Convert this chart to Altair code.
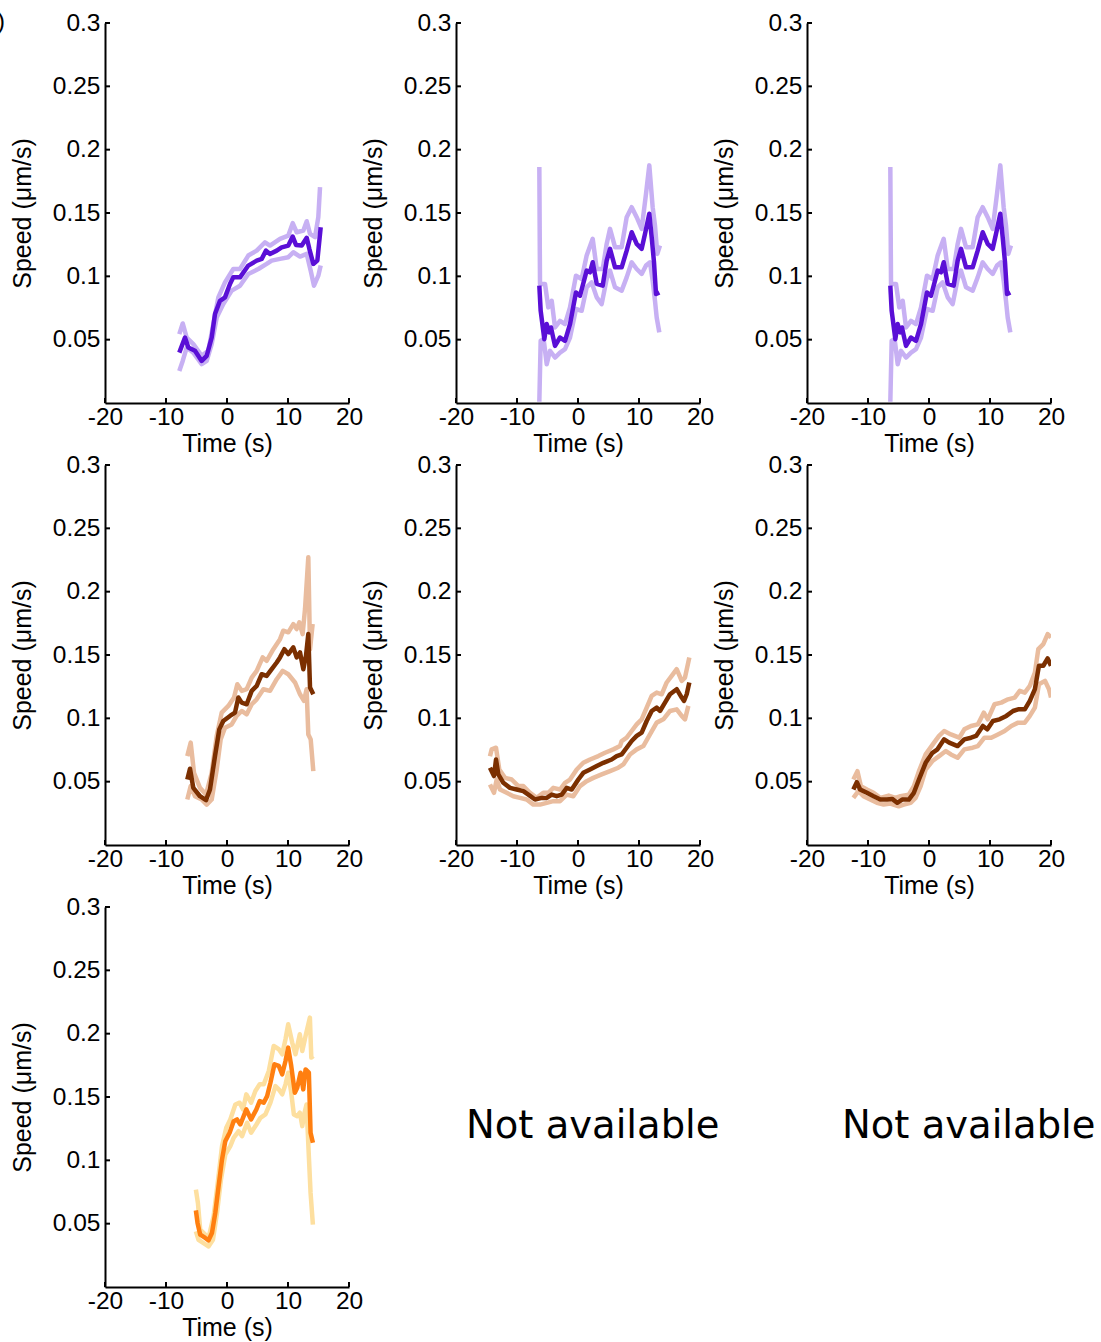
import altair as alt
import pandas as pd

# ---------------- data ----------------
X_TICKS = [-20, -10, 0, 10, 20]
Y_TICKS = [0.05, 0.1, 0.15, 0.2, 0.25, 0.3]
X_TITLE = "Time (s)"
Y_TITLE = "Speed (μm/s)"
NA_TEXT = "Not available"
PANEL_LABEL = "b)"

# panel 1 (purple)
P1_MEAN_T = [-7.82, -6.89, -6.34, -5.25, -4.15, -3.33, -2.51, -1.97, -1.15, -0.33, 0.49, 1.03, 2.13, 3.49, 4.87, 5.69, 6.39, 7.05, 8.15, 8.96, 10.05, 10.77, 11.31, 12.25, 13.07, 13.5, 14.15, 14.81, 15.36]
P1_MEAN_V = [0.0398, 0.0517, 0.0438, 0.0412, 0.0332, 0.0372, 0.0517, 0.0702, 0.0807, 0.0834, 0.0940, 0.0992, 0.0992, 0.1085, 0.1124, 0.1138, 0.1203, 0.1177, 0.1203, 0.1229, 0.1243, 0.1314, 0.1248, 0.1243, 0.1304, 0.1217, 0.1098, 0.1124, 0.1388]
P1_UP_T = [-7.82, -7.26, -6.61, -5.52, -4.15, -3.06, -2.25, -1.42, -0.33, 1.03, 2.13, 3.49, 4.87, 6.23, 7.05, 8.69, 10.05, 10.77, 11.42, 12.52, 13.07, 13.61, 14.43, 14.97, 15.25]
P1_UP_V = [0.0544, 0.0628, 0.0517, 0.0465, 0.0372, 0.0412, 0.0623, 0.0834, 0.0952, 0.1058, 0.1058, 0.1164, 0.1203, 0.1269, 0.1243, 0.1296, 0.1322, 0.1420, 0.1348, 0.1362, 0.1435, 0.1335, 0.1309, 0.1467, 0.1704]
P1_LO_T = [-7.82, -7.26, -6.61, -5.52, -4.15, -3.33, -2.51, -1.69, -0.61, 0.77, 2.13, 3.49, 5.14, 6.5, 7.32, 8.69, 10.05, 10.87, 11.97, 13.07, 13.72, 14.26, 14.97, 15.36]
P1_LO_V = [0.0253, 0.0332, 0.0438, 0.0398, 0.0306, 0.0332, 0.0465, 0.0675, 0.0781, 0.0887, 0.0926, 0.1019, 0.1058, 0.1098, 0.1124, 0.1138, 0.1151, 0.1190, 0.1156, 0.1177, 0.1045, 0.0926, 0.1005, 0.1085]

# panels 2 and 3 (purple, identical curves)
P2_MEAN_T = [-6.34, -6.12, -5.52, -5.13, -4.70, -4.43, -3.77, -2.95, -2.13, -1.31, -0.33, 0.33, 1.42, 1.97, 2.41, 3.07, 4.05, 4.70, 5.25, 6.07, 7.16, 7.98, 8.80, 9.62, 10.44, 10.98, 11.69, 12.08, 12.46, 12.79, 13.33]
P2_MEAN_V = [0.0926, 0.0728, 0.0504, 0.0623, 0.0557, 0.0596, 0.0451, 0.0517, 0.0491, 0.0623, 0.0873, 0.0847, 0.1045, 0.1032, 0.1111, 0.0940, 0.0926, 0.1124, 0.1217, 0.1071, 0.1071, 0.1203, 0.1348, 0.1256, 0.1217, 0.1335, 0.1494, 0.1309, 0.1111, 0.0860, 0.0873]
P2_UP_T = [-6.34, -6.23, -5.41, -4.87, -4.31, -3.77, -2.95, -2.13, -1.31, -0.33, 0.60, 1.42, 2.41, 3.07, 4.05, 4.70, 5.25, 6.07, 7.16, 7.98, 8.80, 9.62, 10.44, 11.15, 11.69, 12.24, 12.62, 13.00, 13.44]
P2_UP_V = [0.1863, 0.0940, 0.0940, 0.0755, 0.0807, 0.0596, 0.0649, 0.0623, 0.0755, 0.1005, 0.0979, 0.1164, 0.1296, 0.1058, 0.1058, 0.1256, 0.1375, 0.1230, 0.1230, 0.1467, 0.1546, 0.1467, 0.1375, 0.1652, 0.1876, 0.1546, 0.1401, 0.1177, 0.1243]
P2_LO_T = [-6.34, -6.12, -5.63, -5.13, -4.59, -3.77, -2.95, -2.13, -1.31, -0.33, 0.60, 1.42, 2.24, 3.07, 3.88, 4.70, 5.25, 6.07, 7.16, 7.98, 8.80, 9.62, 10.44, 11.15, 11.80, 12.24, 12.62, 12.90, 13.33]
P2_LO_V = [0.0010, 0.0491, 0.0504, 0.0306, 0.0412, 0.0359, 0.0398, 0.0425, 0.0517, 0.0742, 0.0728, 0.0913, 0.0952, 0.0834, 0.0781, 0.0979, 0.1045, 0.0913, 0.0887, 0.0992, 0.1111, 0.1058, 0.1019, 0.1085, 0.1111, 0.0966, 0.0807, 0.0675, 0.0557]

# panel 4 (brown)
P4_MEAN_T = [-6.51, -6.07, -5.52, -4.43, -3.44, -2.79, -1.97, -1.26, -0.61, 0.49, 1.31, 1.86, 2.41, 3.23, 4.05, 4.87, 5.69, 6.50, 7.33, 8.15, 8.69, 9.40, 10.05, 10.87, 11.42, 11.97, 12.51, 12.95, 13.33, 13.61, 14.15]
P4_MEAN_V = [0.0517, 0.0602, 0.0451, 0.0385, 0.0354, 0.0438, 0.0702, 0.0913, 0.0979, 0.1019, 0.1045, 0.1164, 0.1124, 0.1111, 0.1217, 0.1256, 0.1348, 0.1335, 0.1388, 0.1441, 0.1481, 0.1546, 0.1507, 0.1560, 0.1481, 0.1520, 0.1388, 0.1494, 0.1665, 0.1243, 0.1190]
P4_UP_T = [-6.51, -5.95, -5.41, -4.43, -3.44, -2.51, -1.69, -0.87, 0.22, 1.15, 1.69, 2.41, 3.23, 4.05, 4.87, 5.85, 6.50, 7.60, 8.69, 9.23, 10.05, 10.87, 11.42, 11.86, 12.40, 12.79, 13.33, 13.61, 14.04]
P4_UP_V = [0.0702, 0.0808, 0.0570, 0.0451, 0.0398, 0.0570, 0.0861, 0.1045, 0.1098, 0.1164, 0.1269, 0.1217, 0.1230, 0.1322, 0.1375, 0.1481, 0.1454, 0.1546, 0.1625, 0.1692, 0.1679, 0.1744, 0.1705, 0.1758, 0.1665, 0.1863, 0.2272, 0.1546, 0.1744]
P4_LO_T = [-6.51, -5.95, -5.25, -4.15, -3.33, -2.51, -1.69, -1.04, -0.33, 0.77, 1.58, 2.41, 3.23, 4.05, 4.87, 5.96, 7.05, 8.15, 9.13, 10.05, 11.15, 11.97, 12.62, 13.05, 13.33, 13.72, 14.15]
P4_LO_V = [0.0359, 0.0465, 0.0385, 0.0359, 0.0319, 0.0359, 0.0596, 0.0834, 0.0926, 0.0952, 0.1019, 0.1058, 0.1032, 0.1111, 0.1150, 0.1230, 0.1217, 0.1309, 0.1375, 0.1348, 0.1283, 0.1190, 0.1138, 0.1230, 0.0873, 0.0834, 0.0583]

# panel 5 (brown)
P5_MEAN_T = [-14.43, -13.77, -13.44, -13.06, -12.24, -11.15, -10.05, -8.96, -8.14, -7.05, -5.95, -5.13, -4.31, -3.49, -2.67, -1.85, -1.03, 0.05, 0.87, 1.97, 3.07, 4.15, 5.52, 6.34, 7.16, 7.98, 8.80, 9.62, 10.44, 11.26, 12.08, 12.90, 13.44, 14.26, 15.08, 16.18, 17.00, 17.38, 17.82, 18.25]
P5_MEAN_V = [0.0610, 0.0544, 0.0675, 0.0557, 0.0491, 0.0451, 0.0438, 0.0425, 0.0398, 0.0359, 0.0372, 0.0372, 0.0398, 0.0385, 0.0398, 0.0451, 0.0438, 0.0517, 0.0570, 0.0596, 0.0623, 0.0649, 0.0675, 0.0702, 0.0715, 0.0768, 0.0821, 0.0861, 0.0887, 0.0979, 0.1058, 0.1085, 0.1058, 0.1124, 0.1190, 0.1230, 0.1164, 0.1138, 0.1190, 0.1283]
P5_UP_T = [-14.43, -14.15, -13.44, -12.90, -11.97, -10.87, -9.78, -8.96, -7.87, -6.77, -5.69, -4.87, -4.05, -2.95, -2.13, -1.31, -0.21, 0.87, 1.97, 3.33, 4.43, 5.79, 6.89, 7.16, 7.98, 8.80, 9.62, 10.44, 11.26, 12.08, 12.90, 13.72, 14.54, 15.36, 16.18, 17.00, 17.54, 18.25]
P5_UP_V = [0.0700, 0.0755, 0.0768, 0.0596, 0.0530, 0.0517, 0.0465, 0.0465, 0.0412, 0.0372, 0.0412, 0.0412, 0.0451, 0.0438, 0.0491, 0.0517, 0.0596, 0.0649, 0.0675, 0.0702, 0.0728, 0.0755, 0.0781, 0.0821, 0.0847, 0.0900, 0.0952, 0.0992, 0.1085, 0.1177, 0.1203, 0.1190, 0.1283, 0.1335, 0.1388, 0.1296, 0.1322, 0.1481]
P5_LO_T = [-14.43, -13.77, -13.33, -12.79, -11.69, -10.60, -9.51, -8.41, -7.32, -6.23, -5.13, -4.05, -2.95, -1.85, -0.77, 0.33, 1.42, 2.51, 3.88, 5.25, 6.61, 7.43, 8.52, 9.62, 10.71, 11.80, 12.90, 13.99, 15.08, 16.18, 17.00, 17.54, 18.09]
P5_LO_V = [0.0478, 0.0412, 0.0517, 0.0438, 0.0412, 0.0385, 0.0372, 0.0359, 0.0319, 0.0319, 0.0333, 0.0346, 0.0346, 0.0398, 0.0385, 0.0465, 0.0504, 0.0530, 0.0557, 0.0583, 0.0610, 0.0636, 0.0715, 0.0755, 0.0781, 0.0873, 0.0966, 0.0992, 0.1058, 0.1071, 0.1019, 0.0992, 0.1098]

# panel 6 (brown)
P6_MEAN_T = [-12.40, -11.83, -11.29, -10.18, -9.09, -7.98, -6.88, -6.05, -5.22, -4.40, -3.31, -2.48, -1.65, -0.55, 0.56, 1.39, 2.48, 3.31, 4.69, 5.79, 6.89, 7.72, 8.83, 9.54, 10.48, 11.57, 12.68, 13.78, 14.61, 15.70, 16.53, 17.36, 18.02, 18.74, 19.45, 20.00]
P6_MEAN_V = [0.0438, 0.0496, 0.0438, 0.0412, 0.0385, 0.0359, 0.0359, 0.0364, 0.0333, 0.0359, 0.0359, 0.0412, 0.0517, 0.0649, 0.0728, 0.0755, 0.0834, 0.0808, 0.0781, 0.0834, 0.0847, 0.0861, 0.0940, 0.0913, 0.0979, 0.0992, 0.1019, 0.1058, 0.1071, 0.1071, 0.1138, 0.1230, 0.1415, 0.1415, 0.1473, 0.1415]
P6_UP_T = [-12.40, -11.73, -11.17, -10.18, -9.09, -7.98, -6.61, -5.50, -4.68, -3.31, -2.48, -1.65, -0.55, 0.83, 1.65, 2.48, 3.59, 4.96, 5.79, 6.89, 8.00, 8.99, 9.64, 10.74, 11.85, 12.96, 14.05, 14.88, 15.70, 16.53, 17.36, 17.92, 18.74, 19.45, 20.00]
P6_UP_V = [0.0517, 0.0583, 0.0465, 0.0438, 0.0412, 0.0372, 0.0390, 0.0372, 0.0385, 0.0398, 0.0465, 0.0583, 0.0715, 0.0808, 0.0861, 0.0900, 0.0873, 0.0847, 0.0913, 0.0940, 0.0952, 0.1045, 0.0992, 0.1111, 0.1124, 0.1150, 0.1164, 0.1217, 0.1203, 0.1256, 0.1362, 0.1546, 0.1586, 0.1665, 0.1639]
P6_LO_T = [-12.40, -11.57, -10.74, -9.64, -8.53, -7.44, -6.33, -4.96, -4.13, -3.02, -2.20, -1.37, -0.55, 0.56, 1.65, 2.76, 3.59, 4.69, 5.79, 7.17, 8.00, 9.09, 10.20, 11.30, 12.40, 13.50, 14.61, 15.70, 16.53, 17.36, 18.02, 19.01, 19.67, 20.00]
P6_LO_V = [0.0372, 0.0425, 0.0385, 0.0359, 0.0333, 0.0319, 0.0327, 0.0306, 0.0319, 0.0333, 0.0372, 0.0465, 0.0596, 0.0663, 0.0702, 0.0742, 0.0715, 0.0689, 0.0755, 0.0768, 0.0781, 0.0847, 0.0847, 0.0873, 0.0900, 0.0940, 0.0966, 0.0966, 0.1019, 0.1085, 0.1269, 0.1296, 0.1230, 0.1164]

# panel 7 (orange)
P7_MEAN_T = [-5.10, -4.83, -4.39, -3.57, -3.03, -2.47, -1.92, -1.38, -0.82, -0.28, 0.43, 1.09, 1.64, 2.19, 3.17, 3.95, 4.82, 5.36, 6.02, 6.58, 7.12, 7.78, 8.49, 9.05, 9.59, 10.03, 10.53, 11.12, 11.51, 12.06, 12.50, 12.88, 13.42, 13.70, 14.08]
P7_MEAN_V = [0.0605, 0.0506, 0.0413, 0.0387, 0.0368, 0.0426, 0.0585, 0.0795, 0.1006, 0.1151, 0.1218, 0.1309, 0.1323, 0.1283, 0.1402, 0.1323, 0.1402, 0.1468, 0.1455, 0.1507, 0.1613, 0.1758, 0.1745, 0.1679, 0.1784, 0.1890, 0.1745, 0.1534, 0.1573, 0.1692, 0.1560, 0.1718, 0.1692, 0.1218, 0.1138]
P7_UP_T = [-5.10, -4.77, -4.39, -3.57, -3.03, -2.20, -1.55, -0.82, -0.12, 0.54, 1.37, 2.07, 2.63, 3.17, 3.95, 4.65, 5.36, 6.02, 6.85, 7.66, 8.49, 9.05, 9.59, 10.03, 10.69, 11.23, 11.94, 12.34, 12.88, 13.59, 13.82, 14.14]
P7_UP_V = [0.0769, 0.0664, 0.0453, 0.0413, 0.0387, 0.0558, 0.0809, 0.1112, 0.1257, 0.1323, 0.1441, 0.1455, 0.1402, 0.1521, 0.1455, 0.1547, 0.1600, 0.1600, 0.1705, 0.1903, 0.1877, 0.1837, 0.1956, 0.2074, 0.1930, 0.1837, 0.1995, 0.1863, 0.1982, 0.2127, 0.1811, 0.1824]
P7_LO_T = [-5.10, -4.67, -3.85, -3.03, -2.30, -1.64, -0.99, -0.28, 0.54, 1.09, 1.91, 2.47, 3.29, 3.95, 4.82, 5.48, 6.30, 7.12, 7.94, 8.49, 9.05, 9.59, 10.03, 10.53, 10.96, 11.51, 11.94, 12.34, 12.71, 13.04, 13.42, 13.70, 14.08]
P7_LO_V = [0.0439, 0.0373, 0.0347, 0.0320, 0.0373, 0.0585, 0.0848, 0.1046, 0.1112, 0.1178, 0.1230, 0.1191, 0.1297, 0.1218, 0.1283, 0.1336, 0.1362, 0.1455, 0.1586, 0.1560, 0.1521, 0.1600, 0.1692, 0.1534, 0.1362, 0.1349, 0.1376, 0.1270, 0.1376, 0.1441, 0.1032, 0.0743, 0.0492]

PURPLE = ("#5a0fd6", "#c7b0f3")
BROWN = ("#7b2f00", "#e9bc9e")
ORANGE = ("#ff7f10", "#fddf9f")

# ---------------- styling ----------------
W, H = 244, 380
FONT = "Liberation Sans"
LFS = 24.5
TFS = 25


def xenc():
    return alt.X("t:Q",
                 scale=alt.Scale(domain=[-20, 20], nice=False, zero=False),
                 axis=alt.Axis(values=X_TICKS, title=X_TITLE, labelExpr="'' + datum.value",
                               tickSize=0, labelPadding=2, titlePadding=3, grid=False,
                               labelFlush=False, labelOverlap=False))


def yenc():
    return alt.Y("v:Q",
                 scale=alt.Scale(domain=[0, 0.3], nice=False, zero=False),
                 axis=alt.Axis(values=Y_TICKS, title=Y_TITLE, labelExpr="'' + datum.value",
                               tickSize=0, labelPadding=5, titlePadding=17, grid=False,
                               labelFlush=False, labelOverlap=False))


def panel(mean, up, lo, colors, label=None):
    dark, light = colors
    layers = []
    for (tt, vv), col, sw in [(up, light, 4.5), (lo, light, 4.5), (mean, dark, 4.5)]:
        df = pd.DataFrame({"t": tt, "v": vv})
        layers.append(alt.Chart(df).mark_line(color=col, strokeWidth=sw, strokeJoin="round",
                                              strokeCap="butt", clip=True)
                      .encode(x=xenc(), y=yenc()))
    xt = alt.Chart(pd.DataFrame({"t": X_TICKS})).mark_rule(color="black", strokeWidth=2).encode(
        x=xenc(), y=alt.value(H), y2=alt.value(H - 5))
    yt = alt.Chart(pd.DataFrame({"v": Y_TICKS})).mark_rule(color="black", strokeWidth=2).encode(
        y=yenc(), x=alt.value(0), x2=alt.value(5))
    layers += [xt, yt]
    if label is not None:
        layers.append(alt.Chart(pd.DataFrame({"s": [label]})).mark_text(
            align="right", baseline="alphabetic", fontSize=24, font=FONT, color="black").encode(
            text="s:N", x=alt.value(-100), y=alt.value(6)))
    return alt.layer(*layers).properties(width=W, height=H)


def na_panel(x_px):
    return alt.Chart(pd.DataFrame({"s": [NA_TEXT]})).mark_text(
        align="left", baseline="alphabetic", fontSize=38.5, font="DejaVu Sans", color="black").encode(
        text="s:N", x=alt.value(x_px), y=alt.value(231)).properties(width=W, height=H)


p1 = panel((P1_MEAN_T, P1_MEAN_V), (P1_UP_T, P1_UP_V), (P1_LO_T, P1_LO_V), PURPLE, PANEL_LABEL)
p2 = panel((P2_MEAN_T, P2_MEAN_V), (P2_UP_T, P2_UP_V), (P2_LO_T, P2_LO_V), PURPLE)
p3 = panel((P2_MEAN_T, P2_MEAN_V), (P2_UP_T, P2_UP_V), (P2_LO_T, P2_LO_V), PURPLE)
p4 = panel((P4_MEAN_T, P4_MEAN_V), (P4_UP_T, P4_UP_V), (P4_LO_T, P4_LO_V), BROWN)
p5 = panel((P5_MEAN_T, P5_MEAN_V), (P5_UP_T, P5_UP_V), (P5_LO_T, P5_LO_V), BROWN)
p6 = panel((P6_MEAN_T, P6_MEAN_V), (P6_UP_T, P6_UP_V), (P6_LO_T, P6_LO_V), BROWN)
p7 = panel((P7_MEAN_T, P7_MEAN_V), (P7_UP_T, P7_UP_V), (P7_LO_T, P7_LO_V), ORANGE)
p8 = na_panel(10)
p9 = na_panel(35)

chart = alt.concat(
    p1, p2, p3, p4, p5, p6, p7, p8, p9,
    columns=3, spacing={"row": 62, "column": 107}, bounds="flush"
).properties(
    autosize=alt.AutoSizeParams(type="none"),
    padding={"left": 105, "top": 23, "right": 996, "bottom": 1319},
    background="white",
).configure_view(
    strokeWidth=0
).configure_axis(
    domainColor="black", domainWidth=2, ticks=False,
    labelFont=FONT, labelFontSize=LFS, labelColor="black",
    titleFont=FONT, titleFontSize=TFS, titleColor="black", titleFontWeight="normal",
)

chart.save("out.html", embed_options={"renderer": "svg", "actions": False})
